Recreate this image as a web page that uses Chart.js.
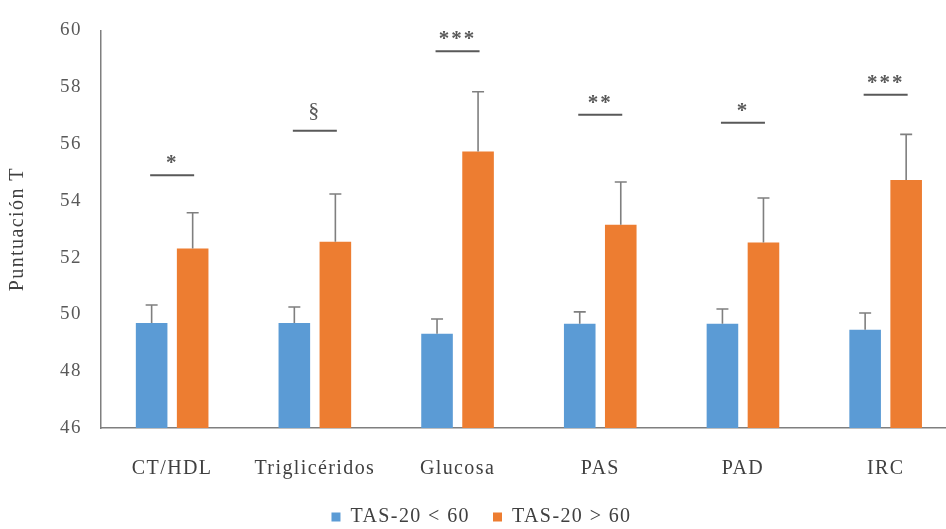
<!DOCTYPE html>
<html>
<head>
<meta charset="utf-8">
<script src="https://cdn.jsdelivr.net/npm/chart.js@4.4.1/dist/chart.umd.min.js"></script>
<style>
  html, body { margin: 0; padding: 0; background: #fff; overflow: hidden; }
  #wrap { position: relative; width: 960px; height: 529px; }
</style>
</head>
<body>
<div id="wrap"><canvas id="c"></canvas></div>
<script>
const categories = ['CT/HDL', 'Triglicéridos', 'Glucosa', 'PAS', 'PAD', 'IRC'];
const seriesNames = ['TAS-20 < 60', 'TAS-20 > 60'];
const lowValues = [49.70, 49.70, 49.32, 49.67, 49.67, 49.46];
const lowErrors = [0.63, 0.56, 0.52, 0.42, 0.52, 0.59];
const highValues = [52.32, 52.56, 55.74, 53.16, 52.53, 54.73];
const highErrors = [1.26, 1.68, 2.10, 1.50, 1.57, 1.61];
const sigLabels = ['*', '§', '***', '**', '*', '***'];
const sigLevels = [54.90, 56.47, 59.27, 57.03, 56.75, 57.73];
const yTicks = [46, 48, 50, 52, 54, 56, 58, 60];

const serif = "'Liberation Serif', 'Times New Roman', serif";
const LS = '1.4px';

const spacingPlugin = {
  id: 'spacing',
  beforeUpdate(chart) { chart.ctx.letterSpacing = LS; },
  beforeLayout(chart) { chart.ctx.letterSpacing = LS; },
  beforeDraw(chart) { chart.ctx.letterSpacing = LS; }
};

const annotPlugin = {
  id: 'annot',
  afterDatasetsDraw(chart) {
    const ctx = chart.ctx;
    const y = chart.scales.y;
    const errs = [lowErrors, highErrors];
    const vals = [lowValues, highValues];
    ctx.save();
    ctx.strokeStyle = '#7f7f7f';
    ctx.lineWidth = 1.6;
    for (let d = 0; d < 2; d++) {
      const meta = chart.getDatasetMeta(d);
      meta.data.forEach((bar, i) => {
        const top = y.getPixelForValue(vals[d][i] + errs[d][i]);
        const base = y.getPixelForValue(vals[d][i]);
        ctx.beginPath();
        ctx.moveTo(bar.x, base);
        ctx.lineTo(bar.x, top);
        ctx.moveTo(bar.x - 6, top);
        ctx.lineTo(bar.x + 6, top);
        ctx.stroke();
      });
    }
    const m0 = chart.getDatasetMeta(0).data;
    const m1 = chart.getDatasetMeta(1).data;
    ctx.lineWidth = 2;
    ctx.strokeStyle = '#595959';
    ctx.fillStyle = '#595959';
    ctx.textAlign = 'center';
    ctx.textBaseline = 'alphabetic';
    ctx.letterSpacing = '2px';
    sigLabels.forEach((lab, i) => {
      const cx = (m0[i].x + m1[i].x) / 2;
      const ly = y.getPixelForValue(sigLevels[i]);
      ctx.beginPath();
      ctx.moveTo(cx - 22, ly);
      ctx.lineTo(cx + 22, ly);
      ctx.stroke();
      if (lab === '§') {
        ctx.font = '22px ' + serif;
        ctx.fillText(lab, cx, ly - 14);
      } else {
        ctx.font = 'bold 21px ' + serif;
        ctx.fillText(lab, cx, ly - 6);
      }
    });
    ctx.restore();
  }
};

new Chart(document.getElementById('c'), {
  type: 'bar',
  data: {
    labels: categories,
    datasets: [
      { label: seriesNames[0], data: lowValues, backgroundColor: '#5B9BD5', borderWidth: 0 },
      { label: seriesNames[1], data: highValues, backgroundColor: '#ED7D31', borderWidth: 0 }
    ]
  },
  options: {
    responsive: true,
    maintainAspectRatio: false,
    animation: false,
    events: [],
    layout: { padding: { top: 4, right: 3, left: 6, bottom: -8 } },
    datasets: { bar: { categoryPercentage: 0.575, barPercentage: 0.77 } },
    scales: {
      x: {
        afterFit(scale) { scale.height -= 26; },
        grid: { display: false, drawTicks: false },
        border: { display: true, color: '#7f7f7f', width: 1.5 },
        ticks: { color: '#404040', font: { family: serif, size: 20 }, padding: 29, maxRotation: 0 }
      },
      y: {
        min: 46, max: 60,
        afterBuildTicks(scale) { scale.ticks = yTicks.map(v => ({ value: v })); },
        grid: { display: false, drawTicks: false },
        border: { display: true, color: '#7f7f7f', width: 1.5 },
        ticks: { color: '#595959', font: { family: serif, size: 19 }, padding: 19 },
        title: { display: true, text: 'Puntuación T', color: '#404040', font: { family: serif, size: 20 }, padding: { top: 0, bottom: 11 } }
      }
    },
    plugins: {
      legend: {
        position: 'bottom',
        labels: { color: '#404040', font: { family: serif, size: 20 }, boxWidth: 9, boxHeight: 9, padding: 23 }
      },
      tooltip: { enabled: false }
    }
  },
  plugins: [spacingPlugin, annotPlugin]
});
</script>
</body>
</html>
